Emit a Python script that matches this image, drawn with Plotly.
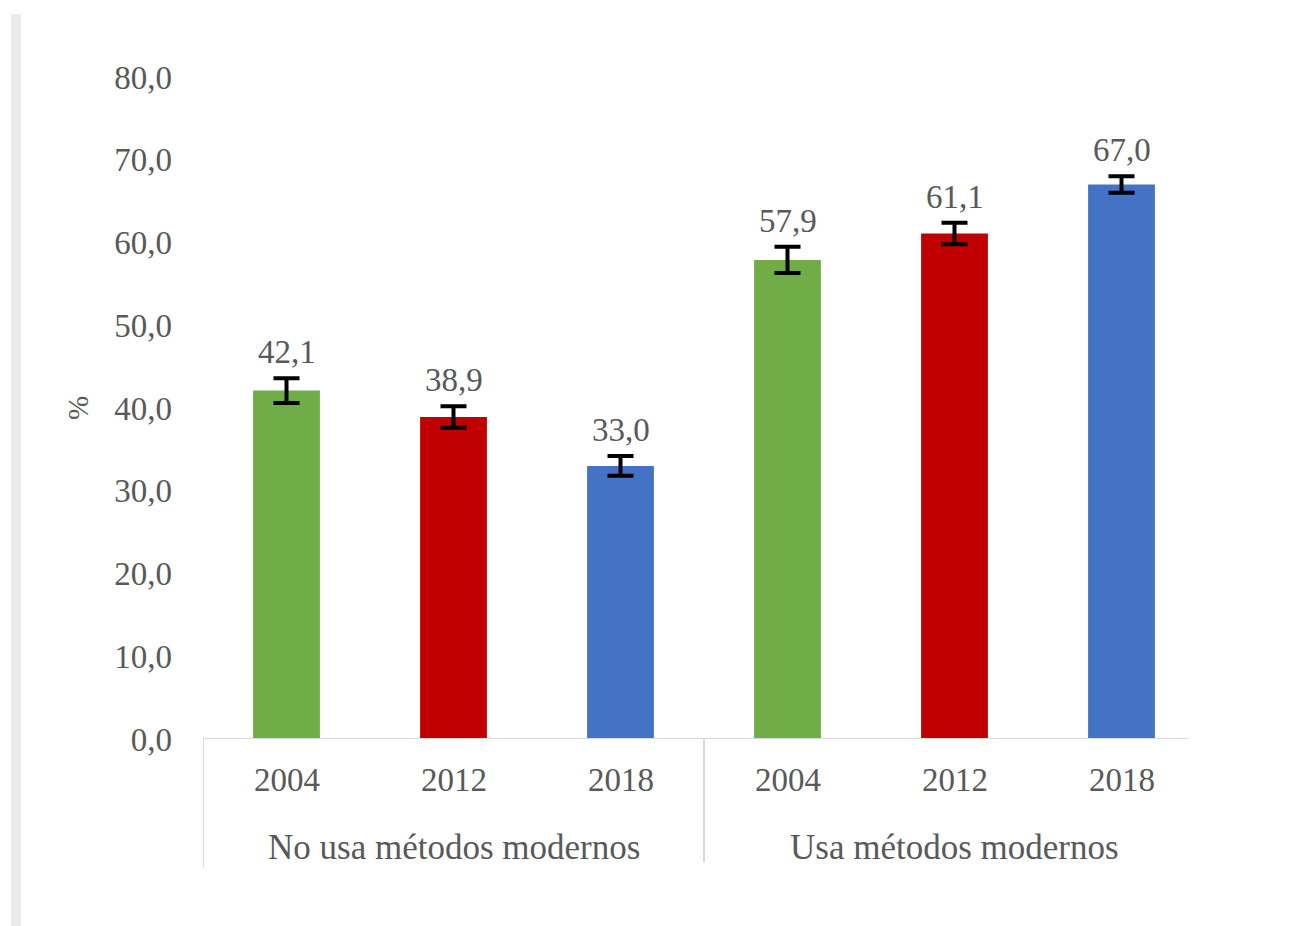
import plotly.graph_objects as go

groups = ["No usa métodos modernos", "Usa métodos modernos"]
years = ["2004", "2012", "2018", "2004", "2012", "2018"]
values = [42.1, 38.9, 33.0, 57.9, 61.1, 67.0]
errors = [1.5, 1.3, 1.2, 1.6, 1.3, 1.0]
colors = ["#70ad47", "#c00000", "#4472c4", "#70ad47", "#c00000", "#4472c4"]
yticks = [0, 10, 20, 30, 40, 50, 60, 70, 80]
yticklabels = ["0,0", "10,0", "20,0", "30,0", "40,0", "50,0", "60,0", "70,0", "80,0"]

FONT = "Liberation Serif"
GRAY = "#595959"

# page offset of 8px (body margin) accounted for in margins
L, T, R, B = 195, 69, 96, 195
PW = 1293 - L - R
PH = 926 - T - B

xs = list(range(len(values)))

fig = go.Figure()
fig.add_trace(go.Bar(
    x=xs, y=values, marker=dict(color=colors, line=dict(width=0)),
    width=0.4,
    error_y=dict(type="data", array=errors, visible=True, color="black",
                 thickness=4, width=13),
    showlegend=False, hoverinfo="skip",
))

annotations = []
for x, v, e in zip(xs, values, errors):
    annotations.append(dict(x=x, y=v + e, xref="x", yref="y",
                            text=f"{v:.1f}".replace(".", ","), showarrow=False,
                            yanchor="bottom", yshift=6,
                            font=dict(family=FONT, size=33, color=GRAY)))
for x, yr in zip(xs, years):
    annotations.append(dict(x=x, y=-41 / PH, xref="x", yref="paper",
                            text=yr, showarrow=False, yanchor="middle",
                            font=dict(family=FONT, size=33, color=GRAY)))
for i, g in enumerate(groups):
    annotations.append(dict(x=1 + 3 * i, y=-108 / PH, xref="x", yref="paper",
                            text=g, showarrow=False, yanchor="middle",
                            font=dict(family=FONT, size=35, color=GRAY)))
annotations.append(dict(x=(78 - 203) / PW, y=(739 - 408) / PH, xref="paper", yref="paper",
                        text="%", showarrow=False, textangle=-90,
                        xanchor="center", yanchor="middle",
                        font=dict(family=FONT, size=29, color=GRAY)))

shapes = [
    # bottom axis line
    dict(type="line", xref="x", yref="y", x0=-0.5, x1=5.4, y0=0, y1=0,
         line=dict(color="#d9d9d9", width=2)),
    # group dividers
    dict(type="line", xref="x", yref="paper", x0=-0.5, x1=-0.5, y0=0, y1=-129 / PH,
         line=dict(color="#d9d9d9", width=2)),
    dict(type="line", xref="x", yref="paper", x0=2.5, x1=2.5, y0=0, y1=-123 / PH,
         line=dict(color="#d9d9d9", width=2)),
    # left gray stripe
    dict(type="rect", xref="paper", yref="paper",
         x0=(11 - 203) / PW, x1=(21 - 203) / PW,
         y0=(739 - 926) / PH, y1=(739 - 14) / PH,
         fillcolor="#ececec", line=dict(width=0), layer="below"),
]

fig.update_layout(
    width=1293, height=926,
    margin=dict(l=L, r=R, t=T, b=B),
    paper_bgcolor="white", plot_bgcolor="white",
    xaxis=dict(range=[-0.5, 5.5], showticklabels=False, showgrid=False,
               zeroline=False, showline=False, ticks=""),
    yaxis=dict(range=[0, 80], tickvals=yticks, ticktext=yticklabels,
               showgrid=False, zeroline=False, showline=False, ticks="",
               ticklabelstandoff=30,
               tickfont=dict(family=FONT, size=33, color=GRAY)),
    annotations=annotations,
    shapes=shapes,
    bargap=0.6,
)

fig.write_html("out.html")
